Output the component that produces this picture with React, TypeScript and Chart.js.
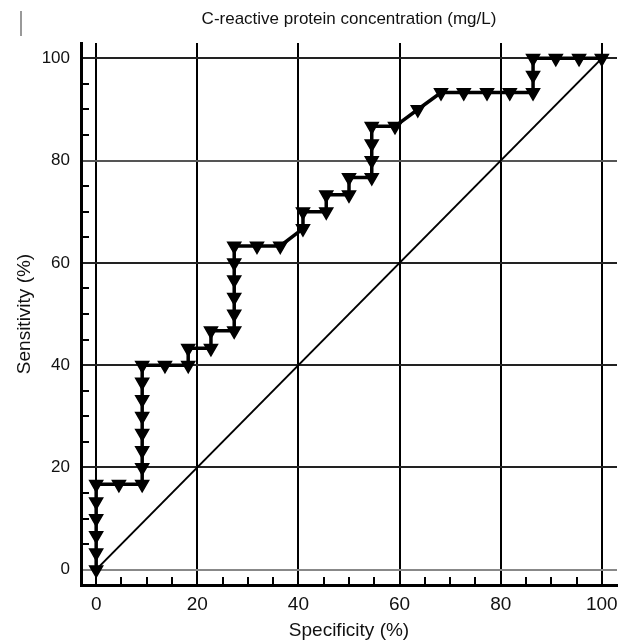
import React, { useEffect, useRef } from "react";
import { Chart, registerables } from "chart.js";

Chart.register(...registerables);

const chartTitle = "C-reactive protein concentration (mg/L)";
const xAxisTitle = "Specificity (%)";
const yAxisTitle = "Sensitivity (%)";

const specificity = [
  0, 0, 0, 0, 0, 0,
  4.5, 9.1,
  9.1, 9.1, 9.1, 9.1, 9.1, 9.1, 9.1,
  13.6, 18.2,
  18.2, 22.7, 22.7, 27.3,
  27.3, 27.3, 27.3, 27.3, 27.3,
  31.8, 36.4,
  40.9, 40.9, 45.5, 45.5, 50, 50, 54.5, 54.5, 54.5, 54.5,
  59.1, 63.6, 68.2, 72.7, 77.3, 81.8, 86.4, 86.4, 86.4, 90.9, 95.5, 100,
];
const sensitivity = [
  0, 3.3, 6.7, 10, 13.3, 16.7,
  16.7, 16.7,
  20, 23.3, 26.7, 30, 33.3, 36.7, 40,
  40, 40,
  43.3, 43.3, 46.7, 46.7,
  50, 53.3, 56.7, 60, 63.3,
  63.3, 63.3,
  66.7, 70, 70, 73.3, 73.3, 76.7, 76.7, 80, 83.3, 86.7,
  86.7, 90, 93.3, 93.3, 93.3, 93.3, 93.3, 96.7, 100, 100, 100, 100,
];
const diagonalX = [0, 100];
const diagonalY = [0, 100];
const majorTicks = [0, 20, 40, 60, 80, 100];
const minorTicks = [5, 10, 15, 25, 30, 35, 45, 50, 55, 65, 70, 75, 85, 90, 95];

const FONT = "'Liberation Sans', Arial, sans-serif";

const decorPlugin = {
  id: "decor",
  afterDraw(chart: any) {
    const ctx = chart.ctx;
    const xs = chart.scales.x;
    const ys = chart.scales.y;
    const area = chart.chartArea;
    ctx.save();
    ctx.strokeStyle = "#000";
    ctx.lineWidth = 2;
    ctx.beginPath();
    for (const v of minorTicks) {
      const px = Math.round(xs.getPixelForValue(v));
      ctx.moveTo(px, area.bottom);
      ctx.lineTo(px, area.bottom - 8);
      const py = Math.round(ys.getPixelForValue(v));
      ctx.moveTo(area.left, py);
      ctx.lineTo(area.left + 8, py);
    }
    ctx.stroke();
    ctx.strokeStyle = "#999";
    ctx.beginPath();
    ctx.moveTo(21, 11);
    ctx.lineTo(21, 36);
    ctx.stroke();
    ctx.fillStyle = "#111";
    ctx.font = `17px ${FONT}`;
    ctx.textAlign = "center";
    ctx.textBaseline = "middle";
    ctx.fillText(chartTitle, (area.left + area.right) / 2, 19);
    ctx.restore();
  },
};

export default function App() {
  const ref = useRef<HTMLCanvasElement | null>(null);
  useEffect(() => {
    if (!ref.current) return;
    const curve = specificity.map((x, i) => ({ x, y: sensitivity[i] }));
    const diag = diagonalX.map((x, i) => ({ x, y: diagonalY[i] }));
    const chart = new Chart(ref.current, {
      type: "scatter",
      data: {
        datasets: [
          {
            data: curve,
            showLine: true,
            borderColor: "#000",
            borderWidth: 3.5,
            backgroundColor: "#000",
            pointStyle: "triangle",
            pointRotation: 180,
            pointRadius: 7.5,
            pointBorderWidth: 1.5,
            pointBackgroundColor: "#000",
            pointBorderColor: "#000",
          },
          {
            data: diag,
            showLine: true,
            borderColor: "#000",
            borderWidth: 2,
            pointRadius: 0,
          },
        ],
      },
      options: {
        animation: false,
        responsive: false,
        maintainAspectRatio: false,
        layout: { padding: { top: 43, right: 4, left: 0, bottom: 0 } },
        plugins: {
          legend: { display: false },
          tooltip: { enabled: false },
          title: { display: false },
        },
        scales: {
          x: {
            type: "linear",
            min: -3,
            max: 103,
            afterBuildTicks: (scale: any) => {
              scale.ticks = majorTicks.map((v) => ({ value: v }));
            },
            afterFit: (scale: any) => {
              scale.height = 56;
            },
            ticks: { color: "#111", font: { family: FONT, size: 19 }, padding: 8, maxRotation: 0 },
            grid: { color: "#000", lineWidth: 2, drawTicks: false },
            border: { display: true, color: "#000", width: 3 },
            title: {
              display: true,
              text: xAxisTitle,
              color: "#111",
              font: { family: FONT, size: 19 },
              padding: { top: 0, bottom: -1 },
            },
          },
          y: {
            type: "linear",
            min: -3,
            max: 103,
            afterBuildTicks: (scale: any) => {
              scale.ticks = majorTicks.map((v) => ({ value: v }));
            },
            afterFit: (scale: any) => {
              scale.width = 81;
            },
            ticks: { color: "#111", font: { family: FONT, size: 17 }, padding: 11 },
            grid: {
              color: (c: any) => (c.tick && c.tick.value === 0 ? "#888" : c.tick && c.tick.value === 80 ? "#555" : "#222"),
              lineWidth: 2,
              drawTicks: false,
            },
            border: { display: true, color: "#000", width: 3 },
            title: {
              display: true,
              text: yAxisTitle,
              color: "#111",
              font: { family: FONT, size: 19 },
              padding: { top: 13, bottom: 0 },
            },
          },
        },
      },
      plugins: [decorPlugin],
    });
    return () => chart.destroy();
  }, []);
  return (
    <div style={{ position: "absolute", left: 0, top: 0, width: 626, height: 641, background: "#fff" }}>
      <canvas ref={ref} width={626} height={641} style={{ width: 626, height: 641 }} />
    </div>
  );
}
